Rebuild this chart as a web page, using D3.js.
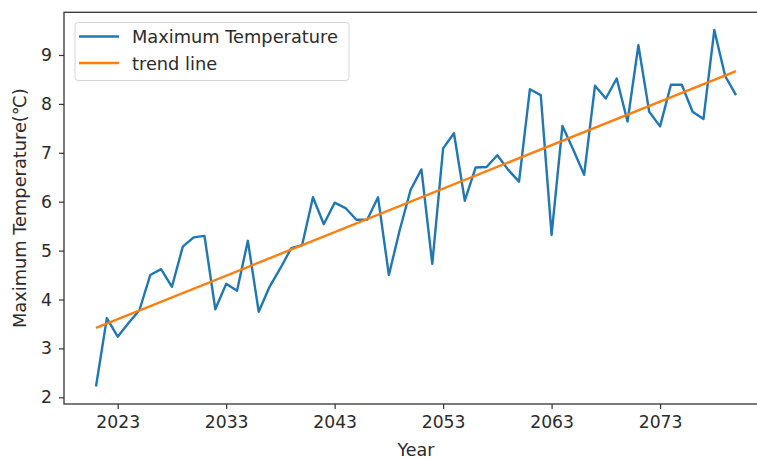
<!DOCTYPE html>
<html>
<head>
<meta charset="utf-8">
<script src="https://cdn.jsdelivr.net/npm/d3@7"></script>
<style>
    body { margin: 0; background: #fff; }
    svg { display: block; overflow: hidden; }
    text { font-family: "DejaVu Sans", sans-serif; fill: #2b2b2b; }
</style>
</head>
<body>
<div id="graph"></div>
<script>
const years = [
    2021, 2022, 2023, 2024, 2025, 2026, 2027, 2028, 2029, 2030,
    2031, 2032, 2033, 2034, 2035, 2036, 2037, 2038, 2039, 2040,
    2041, 2042, 2043, 2044, 2045, 2046, 2047, 2048, 2049, 2050,
    2051, 2052, 2053, 2054, 2055, 2056, 2057, 2058, 2059, 2060,
    2061, 2062, 2063, 2064, 2065, 2066, 2067, 2068, 2069, 2070,
    2071, 2072, 2073, 2074, 2075, 2076, 2077, 2078, 2079, 2080,
];
const maxTemp = [
    2.22, 3.62, 3.24, 3.52, 3.78, 4.50, 4.62, 4.26, 5.08, 5.27,
    5.30, 3.80, 4.32, 4.18, 5.20, 3.75, 4.26, 4.64, 5.05, 5.11,
    6.09, 5.54, 5.98, 5.87, 5.63, 5.63, 6.09, 4.50, 5.42, 6.24,
    6.66, 4.73, 7.09, 7.40, 6.02, 6.70, 6.71, 6.95, 6.65, 6.41,
    8.30, 8.18, 5.32, 7.55, 7.06, 6.55, 8.37, 8.11, 8.52, 7.64,
    9.20, 7.84, 7.54, 8.39, 8.39, 7.84, 7.69, 9.51, 8.57, 8.18,
];
// trend line end points
const trendYears = [2021, 2080];
const trendValues = [3.42, 8.67];

const xTicks = [2023, 2033, 2043, 2053, 2063, 2073];
const yTicks = [2, 3, 4, 5, 6, 7, 8, 9];
const seriesNames = ['Maximum Temperature', 'trend line'];
const colors = ['#1f77b4', '#ff7f0e'];

const width = 757, height = 459;
const plot = { left: 64, right: 768, top: 12.3, bottom: 404 };

const x = d3.scaleLinear().domain([2018.05, 2082.95]).range([plot.left, plot.right]);
const y = d3.scaleLinear().domain([1.863, 9.873]).range([plot.bottom, plot.top]);

const svg = d3.select('#graph').append('svg')
    .attr('width', width)
    .attr('height', height);

const line = d3.line()
    .x((d) => x(d[0]))
    .y((d) => y(d[1]));

svg.append('path')
    .datum(years.map((yr, i) => [yr, maxTemp[i]]))
    .attr('d', line)
    .attr('fill', 'none')
    .attr('stroke', colors[0])
    .attr('stroke-width', 2.4)
    .attr('stroke-linejoin', 'round');

svg.append('path')
    .datum(trendYears.map((yr, i) => [yr, trendValues[i]]))
    .attr('d', line)
    .attr('fill', 'none')
    .attr('stroke', colors[1])
    .attr('stroke-width', 2.4);

// axes
const xAxis = svg.append('g')
    .attr('transform', 'translate(0,' + plot.bottom + ')')
    .call(d3.axisBottom(x).tickValues(xTicks).tickFormat(d3.format('d')).tickSize(5).tickPadding(7).tickSizeOuter(0));
const yAxis = svg.append('g')
    .attr('transform', 'translate(' + plot.left + ',0)')
    .call(d3.axisLeft(y).tickValues(yTicks).tickFormat(d3.format('d')).tickSize(5).tickPadding(7).tickSizeOuter(0));

[xAxis, yAxis].forEach((g) => {
    g.select('.domain').remove();
    g.selectAll('line').attr('stroke', '#333').attr('stroke-width', 1.2);
    g.selectAll('text').attr('font-size', 17.2).attr('font-family', '"DejaVu Sans", sans-serif').attr('fill', '#2b2b2b');
});

svg.append('rect')
    .attr('x', plot.left)
    .attr('y', plot.top)
    .attr('width', plot.right - plot.left)
    .attr('height', plot.bottom - plot.top)
    .attr('fill', 'none')
    .attr('stroke', '#333')
    .attr('stroke-width', 1.3);

// axis titles
svg.append('text')
    .attr('x', 416)
    .attr('y', 456)
    .attr('text-anchor', 'middle')
    .attr('font-size', 17.5)
    .text('Year');

svg.append('text')
    .attr('transform', 'translate(26,' + (plot.top + plot.bottom) / 2 + ') rotate(-90)')
    .attr('text-anchor', 'middle')
    .attr('font-size', 17.8)
    .text('Maximum Temperature(℃)');

// legend
const legend = svg.append('g');
legend.append('rect')
    .attr('x', 75)
    .attr('y', 22.5)
    .attr('width', 274)
    .attr('height', 58)
    .attr('rx', 3)
    .attr('fill', 'rgba(255,255,255,0.8)')
    .attr('stroke', '#d6d6d6')
    .attr('stroke-width', 1);

seriesNames.forEach((name, i) => {
    const ly = 36.5 + i * 26.5;
    legend.append('line')
        .attr('x1', 79).attr('x2', 119)
        .attr('y1', ly).attr('y2', ly)
        .attr('stroke', colors[i])
        .attr('stroke-width', 2.4);
    legend.append('text')
        .attr('x', 132)
        .attr('y', ly + 6.5)
        .attr('font-size', 17.8)
        .text(name);
});
</script>
</body>
</html>
